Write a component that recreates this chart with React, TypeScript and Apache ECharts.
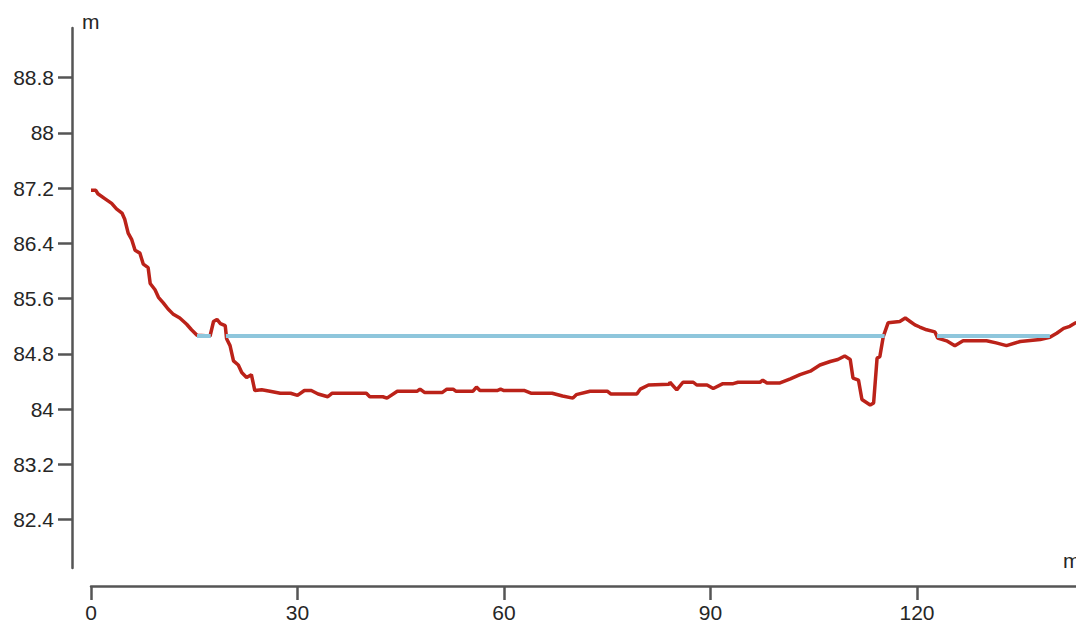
import React, { useEffect, useRef } from "react";
import * as echarts from "echarts";

// Ground profile: distance (m) and elevation (m)
const profileDistances = [
  0, 0.7, 1, 2, 3, 3.7, 4.5, 4.9, 5.4, 5.9, 6.4, 7.1, 7.6, 8.3, 8.6, 9.3, 9.8, 10.5, 11.2, 11.9,
  12.9, 13.9, 14.6, 15.4, 17.3, 17.8, 18.3, 18.8, 19.5, 19.7, 20.2, 20.7, 21.4, 21.9, 22.6, 23.3, 23.8, 24.8, 26, 27.5,
  29, 30, 31, 32, 33, 34.4, 35, 40, 40.5, 42.4, 43, 44.5, 47.4, 47.8, 48.5, 51, 51.7, 52.6, 53, 55.5,
  56, 56.5, 59, 59.5, 60, 63, 64, 67, 68.5, 70, 70.5, 72.5, 75, 75.5, 79.3, 79.8, 81, 84, 84.1, 85.1,
  86, 87.5, 88, 89.5, 90.4, 91.8, 93.3, 94, 97.2, 97.6, 98.2, 100.1, 101.6, 103, 104.5, 105.9, 107.4, 108.5, 109.5, 110.3,
  110.7, 111.5, 112, 113.2, 113.7, 114.2, 114.6, 115.1, 115.8, 117.5, 118.3, 119, 119.7, 120.4, 121.4, 122.6, 123, 124.3, 125.5, 126.7,
  130.1, 131.5, 133, 135, 137.9, 139.3, 140.3, 141.3, 142.2, 143, 143.6,
];
const profileElevations = [
  87.17, 87.17, 87.12, 87.05, 86.98, 86.9, 86.84, 86.75, 86.55, 86.46, 86.3, 86.26, 86.1, 86.05, 85.82, 85.73, 85.62, 85.54, 85.45, 85.38,
  85.32, 85.23, 85.15, 85.07, 85.06, 85.27, 85.3, 85.24, 85.21, 85.02, 84.92, 84.7, 84.64, 84.53, 84.46, 84.5, 84.27, 84.28, 84.26, 84.23,
  84.23, 84.2, 84.27, 84.27, 84.22, 84.18, 84.23, 84.23, 84.18, 84.18, 84.16, 84.26, 84.26, 84.29, 84.24, 84.24, 84.29, 84.29, 84.26, 84.26,
  84.32, 84.27, 84.27, 84.29, 84.27, 84.27, 84.23, 84.23, 84.19, 84.16, 84.21, 84.26, 84.26, 84.22, 84.22, 84.29, 84.35, 84.36, 84.39, 84.28,
  84.39, 84.39, 84.35, 84.35, 84.3, 84.37, 84.37, 84.39, 84.39, 84.42, 84.38, 84.38, 84.44, 84.5, 84.55, 84.64, 84.69, 84.72, 84.77, 84.72,
  84.45, 84.42, 84.14, 84.06, 84.09, 84.74, 84.76, 85.05, 85.25, 85.27, 85.32, 85.27, 85.22, 85.19, 85.15, 85.12, 85.03, 84.99, 84.92, 84.99,
  84.99, 84.96, 84.92, 84.98, 85.01, 85.04, 85.1, 85.17, 85.2, 85.25, 85.26,
];

// Water surface: level (m) and wetted stretches (start, end distance in m)
const waterLevel = 85.06;
const waterStarts = [15.4, 19.6, 122.9];
const waterEnds = [17.4, 115.3, 139.3];

// Axis ticks
const xTickValues = [0, 30, 60, 90, 120];
const yTickValues = [82.4, 83.2, 84, 84.8, 85.6, 86.4, 87.2, 88, 88.8];
const xRange = [0, 143.1];
const yRange = [81.7, 89.52];
const xAxisName = "m";
const yAxisName = "m";

const FONT = "'Liberation Sans', Arial, sans-serif";
const AXIS_COLOR = "#555";
const TEXT_COLOR = "#262626";

export default function App() {
  const ref = useRef<HTMLDivElement>(null);

  useEffect(() => {
    if (!ref.current) return;
    const chart = echarts.init(ref.current, undefined, { renderer: "svg" });

    const groundData = profileDistances.map((d, i) => [d, profileElevations[i]]);
    const waterData: any[] = [];
    waterStarts.forEach((s, i) => {
      if (i > 0) waterData.push([s - 0.1, "-"]);
      waterData.push([s, waterLevel]);
      waterData.push([waterEnds[i], waterLevel]);
    });

    chart.setOption({
      animation: false,
      backgroundColor: "#fff",
      grid: {
        left: 91,
        right: 0,
        top: 28,
        bottom: 55,
        containLabel: false,
        outerBoundsMode: "none",
      },
      xAxis: {
        type: "value",
        min: xRange[0],
        max: xRange[1],
        offset: 18,
        name: xAxisName,
        nameLocation: "end",
        nameGap: -13,
        nameTextStyle: {
          fontFamily: FONT,
          fontSize: 21,
          color: TEXT_COLOR,
          align: "left",
          verticalAlign: "bottom",
          padding: [0, 0, 15, 0],
        },
        splitLine: { show: false },
        axisLine: { show: true, onZero: false, lineStyle: { color: AXIS_COLOR, width: 2.5 } },
        axisTick: {
          show: true,
          length: 14,
          customValues: xTickValues,
          lineStyle: { color: AXIS_COLOR, width: 2.5 },
        },
        axisLabel: {
          customValues: xTickValues,
          margin: 18,
          lineHeight: 16,
          fontFamily: FONT,
          fontSize: 21,
          color: TEXT_COLOR,
        },
      },
      yAxis: {
        type: "value",
        min: yRange[0],
        max: yRange[1],
        offset: 19,
        name: yAxisName,
        nameLocation: "end",
        nameGap: -4,
        nameTextStyle: {
          fontFamily: FONT,
          fontSize: 21,
          color: TEXT_COLOR,
          align: "left",
          padding: [0, 0, 0, 10],
        },
        splitLine: { show: false },
        axisLine: { show: true, onZero: false, lineStyle: { color: AXIS_COLOR, width: 2.5 } },
        axisTick: {
          show: true,
          length: 14,
          customValues: yTickValues,
          lineStyle: { color: AXIS_COLOR, width: 2.5 },
        },
        axisLabel: {
          customValues: yTickValues,
          margin: 18,
          fontFamily: FONT,
          fontSize: 21,
          color: TEXT_COLOR,
          formatter: (v: number) => String(Math.round(v * 10) / 10),
        },
      },
      series: [
        {
          name: "Ground",
          type: "line",
          data: groundData,
          showSymbol: false,
          lineStyle: { color: "#bb2219", width: 3.5 },
          z: 2,
        },
        {
          name: "Water",
          type: "line",
          data: waterData,
          showSymbol: false,
          connectNulls: false,
          lineStyle: { color: "#8ec6dc", width: 4 },
          z: 3,
        },
      ],
    });

    return () => chart.dispose();
  }, []);

  return (
    <div
      ref={ref}
      style={{ position: "fixed", left: 0, top: 0, width: 1076, height: 623 }}
    />
  );
}
